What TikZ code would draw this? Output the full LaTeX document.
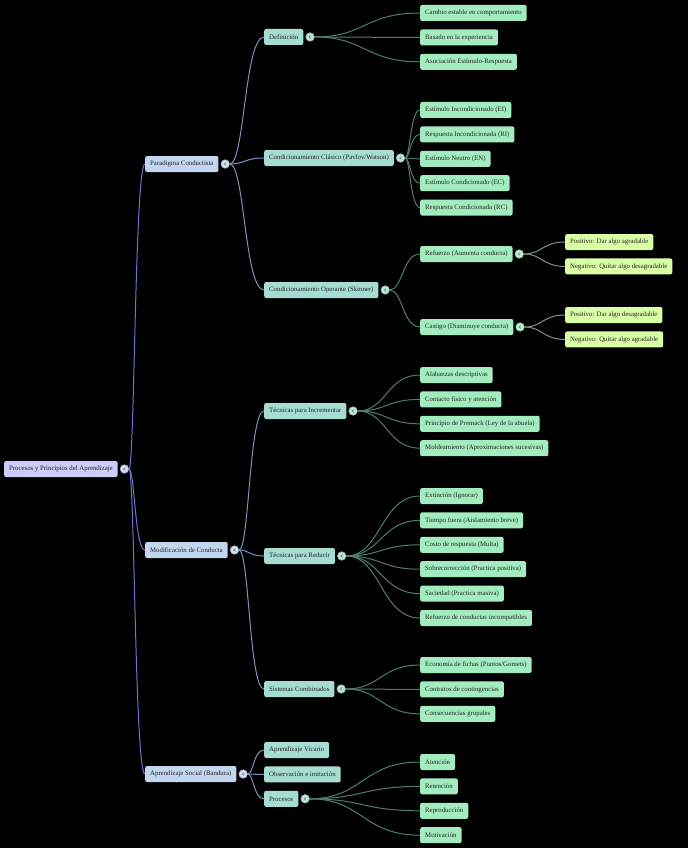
\documentclass[tikz,border=0pt]{standalone}
\usepackage{fontspec}
\setmainfont{Liberation Serif}
\usepackage{xcolor}
\usepackage{tikz}
\usetikzlibrary{positioning,calc}
\pgfdeclarelayer{fondo}
\pgfdeclarelayer{ramas}
\pgfsetlayers{fondo,ramas,main}
\definecolor{craiz}{HTML}{C9CDF7}
\definecolor{ceje}{HTML}{C3D6F0}
\definecolor{ctema}{HTML}{A6DDD2}
\definecolor{choja}{HTML}{A3ECC0}
\definecolor{cdetalle}{HTML}{D9FFA6}
\definecolor{texto}{HTML}{222222}
\definecolor{lin0}{HTML}{6E74D0}
\definecolor{lin1}{HTML}{7A93C0}
\definecolor{lin2}{HTML}{4F7E6C}
\definecolor{lin3}{HTML}{7F9484}
\newsavebox{\cajatxt}
\newcommand{\rotulo}[1]{\sbox{\cajatxt}{#1}\usebox{\cajatxt}\hspace{.13\wd\cajatxt}}

\begin{document}
\begin{tikzpicture}[
      x=1pt, y=-1pt,
      node distance=8pt and 0pt,
      caja/.style={rounded corners=2pt, anchor=west, minimum height=16pt,
        inner xsep=5pt, inner ysep=0pt, font=\fontsize{6.8}{8}\selectfont, text=texto},
      raiz/.style={caja, fill=craiz},
      eje/.style={caja, fill=ceje},
      tema/.style={caja, fill=ctema},
      hoja/.style={caja, fill=choja},
      detalle/.style={caja, fill=cdetalle},
      nudo/.style={circle, minimum size=8.5pt, inner sep=0pt, fill=#1!75!white,
        draw=#1!55!gray, line width=0.6pt,
        path picture={\draw[gray!80!black, line width=0.5pt]
          ([xshift=0.9pt,yshift=1.4pt]path picture bounding box.center)
          -- ++(-1.8pt,-1.4pt) -- ++(1.8pt,-1.4pt);}},
      enlace/.style={line width=1pt, color=#1,
        to path={let \p1=(\tikztostart), \p2=(\tikztotarget) in
          .. controls ({(\x1+\x2)/2},\y1) and ({(\x1+\x2)/2},\y2) .. (\tikztotarget)}}]
    \begin{pgfonlayer}{fondo}
      \fill[black] (0,0) rectangle (688,848);
    \end{pgfonlayer}
    % raiz y primer nivel
    \node[raiz] (proc) at (4,469) {\rotulo{Procesos y Principios del Aprendizaje}};
    \node[nudo=craiz, right=2pt of proc] (cproc) {};
    \node[eje] (parad) at (145,164) {\rotulo{Paradigma Conductista}};
    \node[nudo=ceje, right=2pt of parad] (cparad) {};
    \node[eje] (modif) at (145,550) {\rotulo{Modificación de Conducta}};
    \node[nudo=ceje, right=2pt of modif] (cmodif) {};
    \node[eje] (social) at (145,774) {\rotulo{Aprendizaje Social (Bandura)}};
    \node[nudo=ceje, right=2pt of social] (csocial) {};
    % segundo nivel
    \node[tema] (defi) at (264,37) {\rotulo{Definición}};
    \node[nudo=ctema, right=2pt of defi] (cdefi) {};
    \node[tema] (clas) at (264,158) {\rotulo{Condicionamiento Clásico (Pavlov/Watson)}};
    \node[nudo=ctema, right=2pt of clas] (cclas) {};
    \node[tema] (oper) at (264,290) {\rotulo{Condicionamiento Operante (Skinner)}};
    \node[nudo=ctema, right=2pt of oper] (coper) {};
    \node[tema] (incr) at (264,411) {\rotulo{Técnicas para Incrementar}};
    \node[nudo=ctema, right=2pt of incr] (cincr) {};
    \node[tema] (redu) at (264,556) {\rotulo{Técnicas para Reducir}};
    \node[nudo=ctema, right=2pt of redu] (credu) {};
    \node[tema] (sist) at (264,689) {\rotulo{Sistemas Combinados}};
    \node[nudo=ctema, right=2pt of sist] (csist) {};
    \node[tema] (vica) at (264,750) {\rotulo{Aprendizaje Vicario}};
    \node[tema, below right=of vica.south west] (obse) {\rotulo{Observación e imitación}};
    \node[tema, below right=of obse.south west] (proce) {\rotulo{Procesos}};
    \node[nudo=ctema, right=2pt of proce] (cproce) {};
    % hojas
    \node[hoja] (d1) at (420,13) {\rotulo{Cambio estable en comportamiento}};
    \node[hoja, below right=of d1.south west] (d2) {\rotulo{Basado en la experiencia}};
    \node[hoja, below right=of d2.south west] (d3) {\rotulo{Asociación Estímulo-Respuesta}};
    \node[hoja] (c1) at (420,110) {\rotulo{Estímulo Incondicionado (EI)}};
    \node[hoja, below right=of c1.south west] (c2) {\rotulo{Respuesta Incondicionada (RI)}};
    \node[hoja, below right=of c2.south west] (c3) {\rotulo{Estímulo Neutro (EN)}};
    \node[hoja, below right=of c3.south west] (c4) {\rotulo{Estímulo Condicionado (EC)}};
    \node[hoja, below right=of c4.south west] (c5) {\rotulo{Respuesta Condicionada (RC)}};
    \node[hoja] (refu) at (420,254) {\rotulo{Refuerzo (Aumenta conducta)}};
    \node[nudo=choja, right=2pt of refu] (crefu) {};
    \node[hoja] (cast) at (420,327) {\rotulo{Castigo (Disminuye conducta)}};
    \node[nudo=choja, right=2pt of cast] (ccast) {};
    \node[detalle] (k1) at (565,242) {\rotulo{Positivo: Dar algo agradable}};
    \node[detalle, below right=of k1.south west] (k2) {\rotulo{Negativo: Quitar algo desagradable}};
    \node[detalle] (k3) at (565,315) {\rotulo{Positivo: Dar algo desagradable}};
    \node[detalle, below right=of k3.south west] (k4) {\rotulo{Negativo: Quitar algo agradable}};
    \node[hoja] (i1) at (420,375) {\rotulo{Alabanzas descriptivas}};
    \node[hoja, below right=of i1.south west] (i2) {\rotulo{Contacto físico y atención}};
    \node[hoja, below right=of i2.south west] (i3) {\rotulo{Principio de Premack (Ley de la abuela)}};
    \node[hoja, below right=of i3.south west] (i4) {\rotulo{Moldeamiento (Aproximaciones sucesivas)}};
    \node[hoja] (m1) at (420,496) {\rotulo{Extinción (Ignorar)}};
    \node[hoja, below right=of m1.south west] (m2) {\rotulo{Tiempo fuera (Aislamiento breve)}};
    \node[hoja, below right=of m2.south west] (m3) {\rotulo{Costo de respuesta (Multa)}};
    \node[hoja, below right=of m3.south west] (m4) {\rotulo{Sobrecorrección (Practica positiva)}};
    \node[hoja, below right=of m4.south west] (m5) {\rotulo{Saciedad (Practica masiva)}};
    \node[hoja, below right=of m5.south west] (m6) {\rotulo{Refuerzo de conductas incompatibles}};
    \node[hoja] (s1) at (420,665) {\rotulo{Economía de fichas (Puntos/Gomets)}};
    \node[hoja, below right=of s1.south west] (s2) {\rotulo{Contratos de contingencias}};
    \node[hoja, below right=of s2.south west] (s3) {\rotulo{Consecuencias grupales}};
    \node[hoja] (p1) at (420,762) {\rotulo{Atención}};
    \node[hoja, below right=of p1.south west] (p2) {\rotulo{Retención}};
    \node[hoja, below right=of p2.south west] (p3) {\rotulo{Reproducción}};
    \node[hoja, below right=of p3.south west] (p4) {\rotulo{Motivación}};
    % ramas
    \begin{pgfonlayer}{ramas}
      \draw[enlace=lin0] (cproc) to (parad.west);
      \draw[enlace=lin0] (cproc) to (modif.west);
      \draw[enlace=lin0] (cproc) to (social.west);
      \draw[enlace=lin1] (cparad) to (defi.west);
      \draw[enlace=lin1] (cparad) to (clas.west);
      \draw[enlace=lin1] (cparad) to (oper.west);
      \draw[enlace=lin1] (cmodif) to (incr.west);
      \draw[enlace=lin1] (cmodif) to (redu.west);
      \draw[enlace=lin1] (cmodif) to (sist.west);
      \draw[enlace=lin1] (csocial) to (vica.west);
      \draw[enlace=lin1] (csocial) to (obse.west);
      \draw[enlace=lin1] (csocial) to (proce.west);
      \draw[enlace=lin2] (cdefi) to (d1.west);
      \draw[enlace=lin2] (cdefi) to (d2.west);
      \draw[enlace=lin2] (cdefi) to (d3.west);
      \draw[enlace=lin2] (cclas) to (c1.west);
      \draw[enlace=lin2] (cclas) to (c2.west);
      \draw[enlace=lin2] (cclas) to (c3.west);
      \draw[enlace=lin2] (cclas) to (c4.west);
      \draw[enlace=lin2] (cclas) to (c5.west);
      \draw[enlace=lin2] (coper) to (refu.west);
      \draw[enlace=lin2] (coper) to (cast.west);
      \draw[enlace=lin3] (crefu) to (k1.west);
      \draw[enlace=lin3] (crefu) to (k2.west);
      \draw[enlace=lin3] (ccast) to (k3.west);
      \draw[enlace=lin3] (ccast) to (k4.west);
      \draw[enlace=lin2] (cincr) to (i1.west);
      \draw[enlace=lin2] (cincr) to (i2.west);
      \draw[enlace=lin2] (cincr) to (i3.west);
      \draw[enlace=lin2] (cincr) to (i4.west);
      \draw[enlace=lin2] (credu) to (m1.west);
      \draw[enlace=lin2] (credu) to (m2.west);
      \draw[enlace=lin2] (credu) to (m3.west);
      \draw[enlace=lin2] (credu) to (m4.west);
      \draw[enlace=lin2] (credu) to (m5.west);
      \draw[enlace=lin2] (credu) to (m6.west);
      \draw[enlace=lin2] (csist) to (s1.west);
      \draw[enlace=lin2] (csist) to (s2.west);
      \draw[enlace=lin2] (csist) to (s3.west);
      \draw[enlace=lin2] (cproce) to (p1.west);
      \draw[enlace=lin2] (cproce) to (p2.west);
      \draw[enlace=lin2] (cproce) to (p3.west);
      \draw[enlace=lin2] (cproce) to (p4.west);
    \end{pgfonlayer}
  \end{tikzpicture}
\end{document}
